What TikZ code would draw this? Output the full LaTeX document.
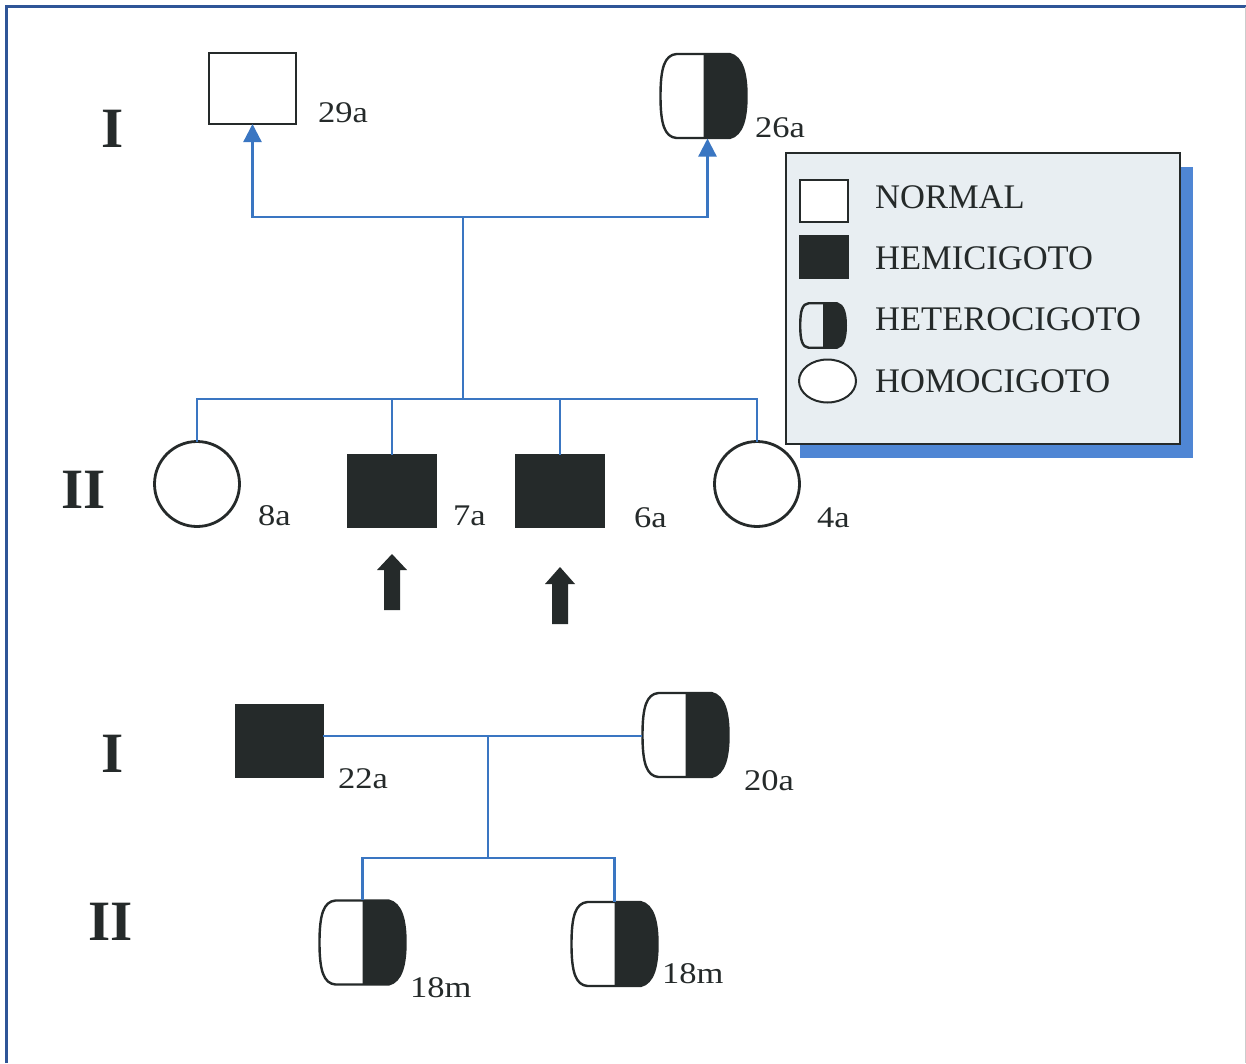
\documentclass[tikz,border=0pt]{standalone}
\usepackage{fontspec}
\setmainfont{Liberation Serif}
\newfontfamily\agefont[FakeStretch=1.15]{Liberation Serif}
\usetikzlibrary{arrows.meta,shapes.geometric}
\definecolor{lnblue}{HTML}{3A76C2}
\definecolor{frblue}{HTML}{2F5597}
\definecolor{shblue}{HTML}{4F86D4}
\definecolor{lgfill}{HTML}{E8EEF2}
\definecolor{ink}{HTML}{252A2A}
\tikzset{
  sym/.style={line width=2.8pt, draw=ink, inner sep=0pt, outer sep=0pt},
  normalsq/.style={sym, rectangle, fill=white, minimum width=87pt, minimum height=71pt},
  hemisq/.style={sym, rectangle, fill=ink, minimum width=87pt, minimum height=72pt},
  homocirc/.style={sym, circle, fill=white, minimum size=85pt},
  hetbox/.style={rectangle, draw=none, inner sep=0pt, outer sep=0pt, minimum width=87pt, minimum height=85pt},
  age/.style={anchor=base west, inner sep=0pt, font=\agefont\fontsize{30}{34}\selectfont, text=ink},
  gen/.style={anchor=base west, inner sep=0pt, font=\fontsize{57}{60}\selectfont\bfseries, text=ink},
  legtxt/.style={anchor=base west, inner sep=0pt, font=\fontsize{34.5}{38}\selectfont, text=ink},
  link/.style={draw=lnblue, line width=2.3pt},
  uparrow/.style={link, -{Triangle[width=18pt,length=18pt]}},
  proband/.style={fill=ink}
}
% heterozygote symbol drawn at a point, scaled
\newcommand\hetdraw[2]{%
  \begin{scope}[shift={(#1)}, scale=#2]
    \fill[ink] (0,-42) -- (26,-42) .. controls (39,-39) and (43,-22) .. (43,0)
       .. controls (43,22) and (39,39) .. (26,42) -- (0,42) -- cycle;
    \draw[ink, line width=2.4pt, line join=round]
       (0,-42) -- (26,-42) .. controls (39,-39) and (43,-22) .. (43,0)
       .. controls (43,22) and (39,39) .. (26,42) -- (-27,42)
       .. controls (-39,41) and (-43,28) .. (-43,0)
       .. controls (-43,-28) and (-39,-41) .. (-27,-42) -- cycle;
  \end{scope}}
\begin{document}
\begin{tikzpicture}[x=1pt,y=-1pt]
\useasboundingbox (0,0) rectangle (1246,1063);
\fill[white] (0,0) rectangle (1246,1063);
% frame
\draw[frblue, line width=3pt] (6.5,1063) -- (6.5,6.5) -- (1246,6.5);
\draw[black!20, line width=1pt] (1245,6.5) -- (1245,1063);

% ---- legend ----
\fill[shblue] (800,167) rectangle (1193,458);
\draw[ink, line width=2pt, fill=lgfill] (786,153) rectangle (1180,444);
\node[sym, rectangle, fill=white, line width=2pt, minimum width=48pt, minimum height=42pt] (lgN) at (823.5,200.5) {};
\node[sym, rectangle, fill=ink, line width=2pt, minimum width=48pt, minimum height=42pt] (lgH) at (823.5,256.5) {};
\node[hetbox, minimum width=46pt, minimum height=43pt] (lgT) at (823,325.5) {};
\hetdraw{lgT.center}{0.53}
\node[sym, ellipse, fill=white, line width=2pt, minimum width=57pt, minimum height=43pt] (lgO) at (827.5,381) {};
\node[legtxt] (tN) at (875,208) {NORMAL};
\node[legtxt] (tH) at (875,269) {HEMICIGOTO};
\node[legtxt] (tT) at (875,330) {HETEROCIGOTO};
\node[legtxt] (tO) at (875,392) {HOMOCIGOTO};

% ---- first family ----
\node[gen] (g1) at (101,147) {I};
\node[gen] (g2) at (61,508) {II};

\node[normalsq] (p29) at (252.5,88.5) {};
\node[hetbox] (p26) at (703.5,96) {};
\hetdraw{p26.center}{1}
\node[age] (l29) at (318,122) {29a};
\node[age] (l26) at (755,137) {26a};

\coordinate (j1) at (463,217);
\coordinate (j2) at (463,399);
\draw[uparrow] (j1) -| (p29.south);
\draw[uparrow] (j1) -| ([xshift=4pt]p26.south);
\draw[link] (j1) -- (j2);

\node[homocirc] (p8) at (197,484) {};
\node[hemisq] (p7) at (392,491) {};
\node[hemisq] (p6) at (560,491) {};
\node[homocirc] (p4) at (757,484) {};
\node[age] (l8) at (258,525) {8a};
\node[age] (l7) at (453,525) {7a};
\node[age] (l6) at (634,527) {6a};
\node[age] (l4) at (817,527) {4a};

\draw[link] (p8.north) -- (p8.north |- j2) -- (p4.north |- j2) -- (p4.north);
\draw[link] (p7.north) -- (p7.north |- j2);
\draw[link] (p6.north) -- (p6.north |- j2);

% proband arrows
\fill[proband] (392,554) -- (407,570) -- (400,570) -- (400,610) -- (384,610) -- (384,570) -- (377,570) -- cycle;
\fill[proband] (560,567) -- (575,584) -- (568,584) -- (568,624) -- (552,624) -- (552,584) -- (545,584) -- cycle;

% ---- second family ----
\node[gen] (g3) at (101,772) {I};
\node[gen] (g4) at (88,940) {II};

\node[hemisq] (p22) at (279.5,741) {};
\node[hetbox] (p20) at (685.5,735) {};
\hetdraw{p20.center}{1}
\node[age] (l22) at (338,788) {22a};
\node[age] (l20) at (744,790) {20a};

\coordinate (m) at (488,736);
\coordinate (j3) at (488,858);
\draw[link] (p22.east |- m) -- (p20.west |- m);
\draw[link] (m) -- (j3);

\node[hetbox] (p18a) at (362.5,942.5) {};
\hetdraw{p18a.center}{1}
\node[hetbox] (p18b) at (614.5,944) {};
\hetdraw{p18b.center}{1}
\node[age] (l18a) at (410,997) {18m};
\node[age] (l18b) at (662,983) {18m};

\draw[link] (p18a.north) |- (j3) -| (p18b.north);
\end{tikzpicture}
\end{document}
